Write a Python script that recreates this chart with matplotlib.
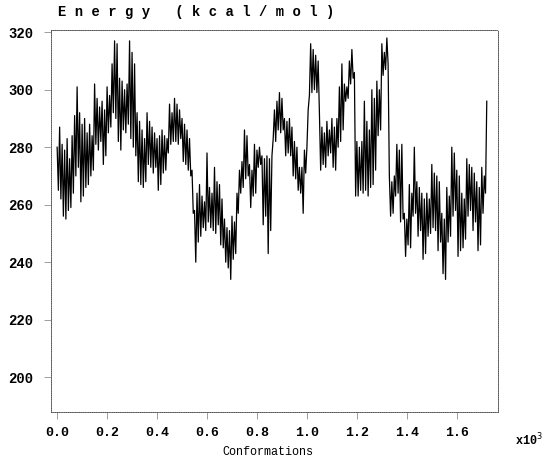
import numpy as np
import matplotlib
matplotlib.use('Agg')
import matplotlib.pyplot as plt

energy = [
    280, 265, 287, 262, 281, 256, 279, 255, 283, 258, 276, 259, 284, 264, 291, 270, 301, 273, 292, 261,
    288, 263, 290, 266, 285, 267, 288, 270, 284, 272, 302, 281, 297, 279, 294, 282, 296, 274, 293, 277,
    301, 285, 298, 287, 309, 292, 317, 290, 316, 282, 304, 279, 303, 286, 300, 285, 302, 288, 317, 283,
    313, 280, 309, 277, 292, 268, 289, 267, 286, 266, 283, 268, 292, 274, 289, 273, 287, 271, 285, 273,
    283, 265, 284, 267, 286, 271, 284, 272, 283, 278, 295, 281, 292, 282, 297, 282, 295, 281, 293, 283,
    290, 275, 288, 274, 286, 272, 283, 270, 272, 257, 258, 240, 264, 247, 267, 249, 263, 252, 261, 251,
    278, 254, 266, 252, 264, 251, 273, 250, 268, 253, 267, 246, 262, 245, 255, 240, 252, 238, 251, 234,
    256, 241, 254, 243, 264, 257, 272, 264, 275, 266, 286, 269, 284, 270, 274, 259, 272, 263, 281, 264,
    279, 273, 280, 274, 277, 253, 276, 256, 277, 243, 276, 251, 277, 283, 293, 282, 296, 286, 299, 285,
    297, 286, 290, 277, 289, 278, 290, 277, 287, 270, 282, 269, 280, 265, 273, 264, 273, 257, 279, 271,
    280, 293, 298, 316, 299, 314, 300, 312, 299, 310, 292, 272, 287, 274, 285, 273, 289, 277, 286, 278,
    290, 273, 287, 272, 290, 280, 301, 282, 309, 286, 302, 296, 301, 297, 310, 302, 314, 304, 306, 263,
    282, 263, 280, 265, 282, 264, 296, 265, 289, 263, 286, 266, 300, 267, 297, 272, 303, 284, 300, 286,
    316, 305, 313, 307, 318, 309, 270, 256, 268, 257, 270, 263, 281, 264, 279, 254, 281, 255, 257, 242,
    255, 246, 267, 245, 264, 256, 280, 257, 268, 249, 266, 251, 264, 241, 262, 243, 264, 249, 262, 250,
    274, 252, 271, 251, 270, 244, 268, 247, 257, 236, 255, 234, 266, 247, 263, 249, 280, 256, 278, 258,
    272, 242, 270, 244, 264, 245, 262, 248, 276, 256, 274, 258, 273, 251, 271, 254, 268, 244, 266, 246,
    273, 257, 270, 264, 296,
]
step = 5  # conformations between samples

y_ticks = [200, 220, 240, 260, 280, 300, 320]
x_ticks = [0.0, 0.2, 0.4, 0.6, 0.8, 1.0, 1.2, 1.4, 1.6]

conf = np.arange(len(energy)) * step / 1000.0

mono = 'Liberation Mono'

fig = plt.figure(figsize=(5.44, 4.58), dpi=100)
ax = fig.add_axes([0.094, 0.100, 0.821, 0.834])

ax.plot(conf, energy, color='black', linewidth=0.9)

ax.set_xlim(-0.024, 1.764)
ax.set_ylim(187.8, 320.7)

ax.set_xticks(x_ticks)
ax.set_xticklabels(['%.1f' % t for t in x_ticks], family=mono, fontsize=9.5, fontweight='bold')
ax.set_yticks(y_ticks)
ax.set_yticklabels([str(t) for t in y_ticks], family=mono, fontsize=10, fontweight='bold')
ax.tick_params(direction='out', length=5, width=0.5, color='#777777', pad=6)
ax.tick_params(axis='y', pad=8)

for side in ax.spines.values():
    side.set_linestyle((0, (0.7, 1.2)))
    side.set_linewidth(0.7)
    side.set_color('#555555')

fig.text(58 / 544, 1 - 12 / 458, 'E n e r g y   ( k c a l / m o l )',
         family=mono, fontsize=10, fontweight='bold', va='center', ha='left')
fig.text(268 / 544, 1 - 452 / 458, 'Conformations', family=mono, fontsize=8.5,
         va='center', ha='center')
fig.text(515 / 544, 1 - 440 / 458, r'x10$^3$', family=mono, fontsize=8.5,
         fontweight='bold', va='center', ha='left')

fig.savefig('out.png', dpi=100)
